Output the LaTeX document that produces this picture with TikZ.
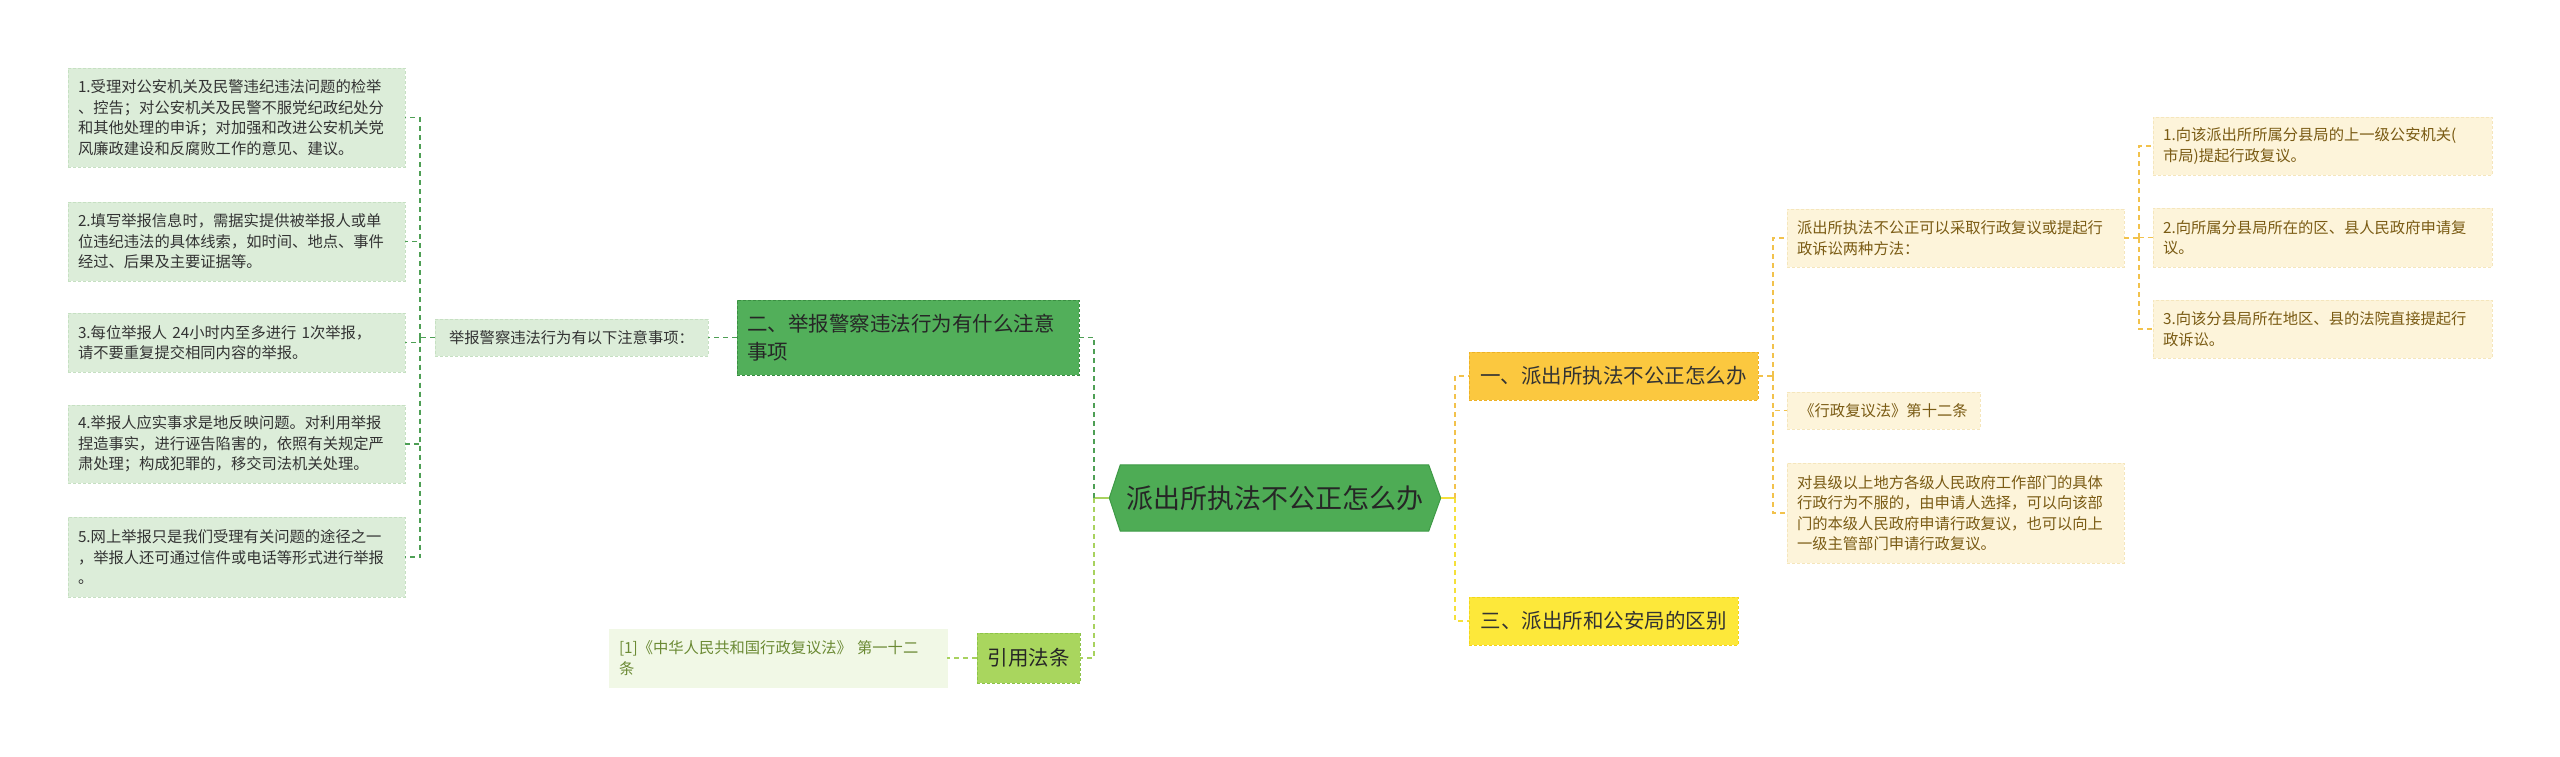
\documentclass[tikz,border=0pt]{standalone}
\usepackage{fontspec}
\setmainfont{Noto Sans CJK SC}
\usetikzlibrary{backgrounds}

\definecolor{inktext}{HTML}{333333}
\definecolor{rulefill}{HTML}{DCEDD9}
\definecolor{ruleedge}{HTML}{C6E0C2}
\definecolor{secgreen}{HTML}{52AF5A}
\definecolor{secgreenedge}{HTML}{3A8E42}
\definecolor{hubgreen}{HTML}{4EAC55}
\definecolor{hubedge}{HTML}{3E9A46}
\definecolor{citefill}{HTML}{A9D65E}
\definecolor{citeedge}{HTML}{8DC448}
\definecolor{reffill}{HTML}{F1F8E6}
\definecolor{reftext}{HTML}{6B8A34}
\definecolor{darkline}{HTML}{4E9F55}
\definecolor{lightline}{HTML}{A8D25E}
\definecolor{orangefill}{HTML}{FBC83F}
\definecolor{orangeedge}{HTML}{EDB125}
\definecolor{yellowfill}{HTML}{FDE83A}
\definecolor{yellowedge}{HTML}{F2D61A}
\definecolor{creamfill}{HTML}{FDF4DA}
\definecolor{creamedge}{HTML}{F5E6BC}
\definecolor{creamtext}{HTML}{7A5B14}
\definecolor{orangeline}{HTML}{F2C24C}
\definecolor{yellowline}{HTML}{F5E03A}

\begin{document}
\begin{tikzpicture}[x=1pt, y=-1pt,
    small/.style={inner xsep=10pt, inner ysep=0pt, align=left,
      font=\fontsize{15.3}{20.5}\selectfont},
    big/.style={inner xsep=10pt, inner ysep=0pt, align=left,
      font=\fontsize{20.5}{28}\selectfont},
    rulebox/.style={small, fill=rulefill, draw=ruleedge, densely dashed, text=inktext},
    creambox/.style={small, fill=creamfill, draw=creamedge, densely dashed, text=creamtext},
    refbox/.style={small, fill=reffill, draw=reffill, text=reftext},
    dgline/.style={darkline, line width=1.3pt, dash pattern=on 5pt off 4pt},
    lgline/.style={lightline, line width=1.3pt, dash pattern=on 5pt off 4pt},
    oline/.style={orangeline, line width=1.3pt, dash pattern=on 5pt off 4pt},
    yline/.style={yellowline, line width=1.3pt, dash pattern=on 5pt off 4pt}]

  \useasboundingbox (0,0) rectangle (2560,756);

  % Centre
  \node[font=\fontsize{27}{32}\selectfont, text=black!85, minimum width=308,
        minimum height=66, inner sep=0pt] (hub) at (1274.5,498) {派出所执法不公正怎么办};
  \begin{scope}[on background layer]
    \filldraw[fill=hubgreen, draw=hubedge, line width=1pt]
      (hub.north west) -- (hub.north east) -- ([xshift=12pt]hub.east) coordinate (hubR)
      -- (hub.south east) -- (hub.south west) -- ([xshift=-11pt]hub.west) coordinate (hubL)
      -- cycle;
  \end{scope}

  % Left branch
  \node[big, fill=secgreen, draw=secgreenedge, densely dashed, text=black!85,
        text width=322, minimum height=75] (sec2) at (908,337.5)
        {二、举报警察违法行为有什么注意\\事项};
  \node[rulebox, minimum width=273, minimum height=37] (note) at (571.5,337.5)
        {举报警察违法行为有以下注意事项：};

  \node[rulebox, text width=317, minimum height=99] (rule1) at (236.5,117.5)
        {1.受理对公安机关及民警违纪违法问题的检举\\、控告；对公安机关及民警不服党纪政纪处分\\和其他处理的申诉；对加强和改进公安机关党\\风廉政建设和反腐败工作的意见、建议。};
  \node[rulebox, text width=317, minimum height=79] (rule2) at (236.5,241.5)
        {2.填写举报信息时，需据实提供被举报人或单\\位违纪违法的具体线索，如时间、地点、事件\\经过、后果及主要证据等。};
  \node[rulebox, text width=317, minimum height=59] (rule3) at (236.5,342.5)
        {3.每位举报人 24小时内至多进行 1次举报，\\请不要重复提交相同内容的举报。};
  \node[rulebox, text width=317, minimum height=78] (rule4) at (236.5,444)
        {4.举报人应实事求是地反映问题。对利用举报\\捏造事实，进行诬告陷害的，依照有关规定严\\肃处理；构成犯罪的，移交司法机关处理。};
  \node[rulebox, text width=317, minimum height=80] (rule5) at (236.5,557)
        {5.网上举报只是我们受理有关问题的途径之一\\，举报人还可通过信件或电话等形式进行举报\\。};

  \node[big, fill=citefill, draw=citeedge, densely dashed, text=black!85,
        minimum width=103, minimum height=50] (cite) at (1028.5,658) {引用法条};
  \node[refbox, text width=318, minimum height=58] (ref1) at (778,658)
        {[1]《中华人民共和国行政复议法》 第一十二\\条};

  % Right branch
  \node[big, fill=orangefill, draw=orangeedge, densely dashed, text=inktext,
        minimum width=289, minimum height=48] (sec1) at (1613.5,376)
        {一、派出所执法不公正怎么办};
  \node[big, fill=yellowfill, draw=yellowedge, densely dashed, text=inktext,
        minimum width=269, minimum height=48] (sec3) at (1603.5,621)
        {三、派出所和公安局的区别};

  \node[creambox, text width=317, minimum height=58] (ways) at (1955.5,238)
        {派出所执法不公正可以采取行政复议或提起行\\政诉讼两种方法：};
  \node[creambox, minimum width=193, minimum height=37] (law) at (1883.5,410.5)
        {《行政复议法》第十二条};
  \node[creambox, text width=317, minimum height=100] (county) at (1955.5,513)
        {对县级以上地方各级人民政府工作部门的具体\\行政行为不服的，由申请人选择，可以向该部\\门的本级人民政府申请行政复议，也可以向上\\一级主管部门申请行政复议。};

  \node[creambox, text width=319, minimum height=58] (way1) at (2322.5,146)
        {1.向该派出所所属分县局的上一级公安机关(\\市局)提起行政复议。};
  \node[creambox, text width=319, minimum height=59] (way2) at (2322.5,237.5)
        {2.向所属分县局所在的区、县人民政府申请复\\议。};
  \node[creambox, text width=319, minimum height=58] (way3) at (2322.5,329)
        {3.向该分县局所在地区、县的法院直接提起行\\政诉讼。};

  % Trunks
  \coordinate (ltrunk) at (1094,498);
  \coordinate (rtrunk) at (1455,498);
  \coordinate (ruletrunk) at (420,337.5);
  \coordinate (sec1trunk) at (1773,376);
  \coordinate (waytrunk) at (2139,238);

  % Connectors, left
  \draw[lightline, line width=1.3pt] (hubL) -- (ltrunk);
  \draw[dgline] (ltrunk) |- (sec2.east);
  \draw[lgline] (ltrunk) |- (cite.east);
  \draw[dgline] (sec2.west) -- (note.east);
  \draw[dgline] (note.west) -- (ruletrunk);
  \foreach \r in {rule1,rule2,rule3,rule4,rule5}
    \draw[dgline] (ruletrunk) |- (\r.east);
  \draw[lgline] (cite.west) -- (ref1.east);

  % Connectors, right
  \draw[yellowline, line width=1.3pt] (hubR) -- (rtrunk);
  \draw[oline] (rtrunk) |- (sec1.west);
  \draw[yline] (rtrunk) |- (sec3.west);
  \draw[oline] (sec1.east) -- (sec1trunk);
  \foreach \r in {ways,law,county}
    \draw[oline] (sec1trunk) |- (\r.west);
  \draw[oline] (ways.east) -- (waytrunk);
  \foreach \r in {way1,way2,way3}
    \draw[oline] (waytrunk) |- (\r.west);
\end{tikzpicture}
\end{document}
